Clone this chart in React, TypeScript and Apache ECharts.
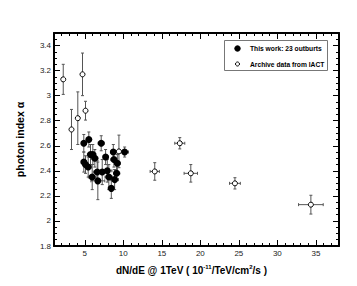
import React, { useEffect, useRef } from "react";
import * as echarts from "echarts";

// ---- Data ----
const filledX = [4.87, 5.52, 7.13, 4.87, 5.09, 5.44, 5.74, 6.04, 6.3, 5.96, 6.61, 6.69, 7.26, 7.7, 7.92, 8.12, 8.44, 8.7, 8.78, 9.22, 9.13, 8.87, 10.17];
const filledY = [2.62, 2.65, 2.62, 2.47, 2.45, 2.43, 2.53, 2.53, 2.5, 2.35, 2.39, 2.32, 2.39, 2.51, 2.4, 2.35, 2.26, 2.55, 2.49, 2.46, 2.38, 2.33, 2.55];
const filledXErr = [0.3, 0.3, 0.4, 0.3, 0.3, 0.4, 0.4, 0.4, 0.4, 0.5, 0.5, 0.9, 0.5, 0.3, 0.6, 0.5, 0.4, 0.3, 0.4, 0.4, 0.4, 0.5, 0.5];
const filledYErr = [0.07, 0.06, 0.06, 0.08, 0.07, 0.08, 0.08, 0.08, 0.07, 0.1, 0.09, 0.15, 0.1, 0.06, 0.09, 0.1, 0.08, 0.06, 0.06, 0.07, 0.06, 0.08, 0.04];

const archiveX = [2.2, 3.27, 4.09, 4.7, 5.09, 9.43, 14.08, 17.33, 18.76, 24.49, 34.35];
const archiveY = [3.13, 2.73, 2.82, 3.17, 2.88, 2.555, 2.395, 2.62, 2.38, 2.3, 2.13];
const archiveXErr = [0, 0, 0, 0, 0, 0, 0.6, 0.65, 0.87, 0.7, 1.6];
const archiveYErr = [0.12, 0.16, 0.21, 0.17, 0.075, 0.13, 0.07, 0.045, 0.07, 0.045, 0.075];

const xMajorTicks = [5, 10, 15, 20, 25, 30, 35];
const yMajorTicks = [1.8, 2, 2.2, 2.4, 2.6, 2.8, 3, 3.2, 3.4];

const seriesNames = ["This work: 23 outburts", "Archive data from IACT"];
const xTitle = "{b|dN/dE @ 1TeV ( 10}{s|-11}{b|/TeV/cm}{s|2}{b|/s )}";
const yTitle = "photon index \u03b1";

const FONT = "'Liberation Sans', Arial, Helvetica, sans-serif";

function buildErr(xs: number[], ys: number[], xe: number[], ye: number[]) {
  return xs.map((x, i) => [x, ys[i], xe[i], ye[i]]);
}

function renderErr(_params: any, api: any) {
  const x = api.value(0);
  const y = api.value(1);
  const xe = api.value(2);
  const ye = api.value(3);
  const c = api.coord([x, y]);
  const children: any[] = [];
  const st = { stroke: "#555", lineWidth: 1 };
  const cap = 1.5;
  if (ye > 0) {
    const t = api.coord([x, y + ye]);
    const b = api.coord([x, y - ye]);
    children.push({ type: "line", shape: { x1: c[0], y1: t[1], x2: c[0], y2: b[1] }, style: st });
    children.push({ type: "line", shape: { x1: c[0] - cap, y1: t[1], x2: c[0] + cap, y2: t[1] }, style: st });
    children.push({ type: "line", shape: { x1: c[0] - cap, y1: b[1], x2: c[0] + cap, y2: b[1] }, style: st });
  }
  if (xe > 0) {
    const l = api.coord([x - xe, y]);
    const r = api.coord([x + xe, y]);
    children.push({ type: "line", shape: { x1: l[0], y1: c[1], x2: r[0], y2: c[1] }, style: st });
    children.push({ type: "line", shape: { x1: l[0], y1: c[1] - cap, x2: l[0], y2: c[1] + cap }, style: st });
    children.push({ type: "line", shape: { x1: r[0], y1: c[1] - cap, x2: r[0], y2: c[1] + cap }, style: st });
  }
  return { type: "group", children };
}

export default function App() {
  const ref = useRef<HTMLDivElement>(null);
  useEffect(() => {
    if (!ref.current) return;
    const chart = echarts.init(ref.current, null, { renderer: "svg" });
    const axisLine = { show: true, onZero: false, lineStyle: { color: "#000", width: 2 } };
    const noLine = { show: false };
    const xBase = { type: "value", min: 1, max: 38, splitLine: { show: false } };
    const yBase = { type: "value", min: 1.8, max: 3.5, splitLine: { show: false } };
    const minorTick = { show: true, inside: true, length: 3, lineStyle: { color: "#000", width: 1 } };
    const majorTick = (vals: number[]) => ({ show: true, inside: true, length: 6, customValues: vals, lineStyle: { color: "#000", width: 1 } });
    const labelStyle = { fontSize: 8, color: "#222", fontFamily: FONT };

    chart.setOption({
      animation: false,
      grid: { left: 54, right: 18, top: 33, bottom: 40 },
      xAxis: [
        {
          ...xBase,
          position: "bottom",
          interval: 1,
          axisLine,
          axisTick: minorTick,
          axisLabel: { ...labelStyle, margin: 3, customValues: xMajorTicks },
          name: xTitle,
          nameLocation: "middle",
          nameGap: 18,
          nameTextStyle: {
            padding: [0, 10, 0, 0],
            rich: {
              b: { fontSize: 10, fontWeight: "bold", fontFamily: FONT, color: "#000", lineHeight: 12, verticalAlign: "middle" },
              s: { fontSize: 6, fontWeight: "bold", fontFamily: FONT, color: "#000", verticalAlign: "top" },
            },
          },
        },
        { ...xBase, position: "bottom", axisLine: noLine, axisTick: majorTick(xMajorTicks), axisLabel: { show: false } },
        { ...xBase, position: "top", interval: 1, axisLine, axisTick: minorTick, axisLabel: { show: false } },
        { ...xBase, position: "top", axisLine: noLine, axisTick: majorTick(xMajorTicks), axisLabel: { show: false } },
      ],
      yAxis: [
        {
          ...yBase,
          position: "left",
          interval: 0.05,
          axisLine,
          axisTick: minorTick,
          axisLabel: { ...labelStyle, margin: 3, customValues: yMajorTicks },
          name: yTitle,
          nameLocation: "middle",
          nameGap: 29,
          nameTextStyle: { fontSize: 10.5, fontWeight: "bold", fontFamily: FONT, color: "#000" },
        },
        { ...yBase, position: "left", axisLine: noLine, axisTick: majorTick(yMajorTicks), axisLabel: { show: false } },
        { ...yBase, position: "right", interval: 0.05, axisLine, axisTick: minorTick, axisLabel: { show: false } },
        { ...yBase, position: "right", axisLine: noLine, axisTick: majorTick(yMajorTicks), axisLabel: { show: false } },
      ],
      series: [
        {
          type: "custom",
          name: seriesNames[1] + " errors",
          renderItem: renderErr,
          data: buildErr(archiveX, archiveY, archiveXErr, archiveYErr),
          z: 2,
          silent: true,
        },
        {
          type: "custom",
          name: seriesNames[0] + " errors",
          renderItem: renderErr,
          data: buildErr(filledX, filledY, filledXErr, filledYErr),
          z: 2,
          silent: true,
        },
        {
          type: "scatter",
          name: seriesNames[1],
          data: archiveX.map((x, i) => [x, archiveY[i]]),
          symbol: "circle",
          symbolSize: 5,
          itemStyle: { color: "#fff", borderColor: "#000", borderWidth: 1, opacity: 1 },
          z: 3,
        },
        {
          type: "scatter",
          name: seriesNames[0],
          data: filledX.map((x, i) => [x, filledY[i]]),
          symbol: "circle",
          symbolSize: 7,
          itemStyle: { color: "#000", opacity: 1 },
          z: 4,
        },
      ],
      graphic: [
        {
          type: "rect",
          shape: { x: 224.5, y: 40.5, width: 103, height: 30 },
          style: { fill: "#fff", stroke: "#777", lineWidth: 1 },
          z: 10,
        },
        { type: "circle", shape: { cx: 237.5, cy: 48.5, r: 3.2 }, style: { fill: "#000" }, z: 11 },
        { type: "circle", shape: { cx: 237.5, cy: 64, r: 2 }, style: { fill: "#fff", stroke: "#000", lineWidth: 1 }, z: 11 },
        {
          type: "text",
          x: 250,
          y: 48.5,
          style: { text: seriesNames[0], font: `bold 6.7px ${FONT}`, fill: "#000", verticalAlign: "middle", align: "left" },
          z: 11,
        },
        {
          type: "text",
          x: 250,
          y: 64,
          style: { text: seriesNames[1], font: `bold 6.7px ${FONT}`, fill: "#000", verticalAlign: "middle", align: "left" },
          z: 11,
        },
      ],
    });
    return () => chart.dispose();
  }, []);
  return <div ref={ref} style={{ width: 357, height: 286, position: "absolute", left: 0, top: 0, background: "#fff" }} />;
}
